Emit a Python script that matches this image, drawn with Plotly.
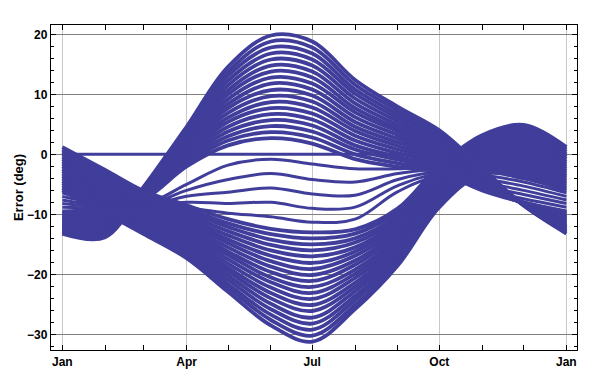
import plotly.graph_objects as go

# Day-of-year positions of the first day of each month (Jan 1 .. next Jan 1)
month_days = [0, 31, 59, 90, 120, 151, 181, 212, 243, 273, 304, 334, 365]
quarter_days = [0, 90, 181, 273, 365]
quarter_labels = ["Jan", "Apr", "Jul", "Oct", "Jan"]

# Curves peaking in June (values at the first of each month, degrees)
upper_curves = [
    [-13.2, -13.8, -5.4, 4.6, 14.6, 19.8, 18.8, 12.4, 7.9, 4.0, -2.3, -8.5, -13.2],
    [-13.0, -13.5, -5.5, 4.2, 13.8, 18.8, 17.8, 11.6, 7.3, 3.6, -2.5, -8.5, -13.0],
    [-12.8, -13.2, -5.6, 3.8, 13.1, 17.8, 16.8, 10.8, 6.7, 3.2, -2.7, -8.4, -12.8],
    [-12.5, -13.0, -5.8, 3.4, 12.3, 16.8, 15.8, 10.1, 6.1, 2.8, -2.9, -8.4, -12.5],
    [-12.3, -12.7, -5.9, 3.0, 11.5, 15.8, 14.8, 9.3, 5.5, 2.3, -3.2, -8.4, -12.3],
    [-12.1, -12.4, -6.0, 2.7, 10.7, 14.8, 13.8, 8.5, 4.9, 1.9, -3.4, -8.4, -12.1],
    [-11.9, -12.1, -6.1, 2.3, 10.0, 13.8, 12.8, 7.7, 4.3, 1.5, -3.6, -8.3, -11.9],
    [-11.7, -11.8, -6.3, 1.9, 9.2, 12.8, 11.8, 7.0, 3.8, 1.0, -3.8, -8.3, -11.7],
    [-11.5, -11.5, -6.4, 1.5, 8.4, 11.8, 10.8, 6.2, 3.2, 0.6, -4.0, -8.3, -11.5],
    [-11.2, -11.3, -6.5, 1.1, 7.7, 10.7, 9.8, 5.4, 2.6, 0.2, -4.3, -8.2, -11.2],
    [-11.0, -11.0, -6.6, 0.7, 6.9, 9.7, 8.8, 4.6, 2.0, -0.2, -4.5, -8.2, -11.0],
    [-10.8, -10.7, -6.8, 0.3, 6.1, 8.7, 7.8, 3.9, 1.4, -0.6, -4.7, -8.2, -10.8],
    [-10.6, -10.4, -6.9, -0.1, 5.4, 7.7, 6.8, 3.1, 0.8, -1.0, -5.0, -8.1, -10.6],
    [-10.4, -10.1, -7.0, -0.4, 4.6, 6.7, 5.8, 2.3, 0.2, -1.4, -5.2, -8.1, -10.4],
    [-10.2, -9.8, -7.1, -0.8, 3.8, 5.7, 4.8, 1.5, -0.4, -1.8, -5.4, -8.1, -10.2],
    [-9.9, -9.6, -7.3, -1.2, 3.0, 4.7, 3.8, 0.8, -0.9, -2.2, -5.6, -8.1, -9.9],
    [-9.7, -9.3, -7.4, -1.6, 2.3, 3.7, 2.8, 0.0, -1.5, -2.6, -5.8, -8.0, -9.7],
    [-9.5, -9.0, -7.5, -2.0, 1.5, 2.7, 1.8, -0.8, -2.1, -3.0, -6.0, -8.0, -9.5],
]

# Curves with a trough in July
lower_curves = [
    [-6.0, -9.8, -13.3, -17.3, -22.9, -28.5, -31.2, -25.8, -18.5, -8.8, -3.3, -4.0, -6.0],
    [-5.6, -9.4, -12.9, -16.8, -22.2, -27.6, -30.2, -25.1, -18.0, -8.4, -2.9, -3.5, -5.6],
    [-5.2, -9.0, -12.5, -16.3, -21.6, -26.7, -29.2, -24.3, -17.4, -8.0, -2.6, -3.0, -5.2],
    [-4.8, -8.6, -12.1, -15.8, -20.9, -25.8, -28.2, -23.6, -16.9, -7.6, -2.2, -2.5, -4.8],
    [-4.4, -8.2, -11.7, -15.3, -20.2, -24.9, -27.2, -22.8, -16.4, -7.2, -1.8, -2.0, -4.4],
    [-4.0, -7.8, -11.3, -14.9, -19.5, -24.0, -26.1, -22.1, -15.9, -6.9, -1.5, -1.5, -4.0],
    [-3.6, -7.4, -10.9, -14.4, -18.9, -23.1, -25.1, -21.4, -15.3, -6.5, -1.1, -1.0, -3.6],
    [-3.2, -7.0, -10.5, -13.9, -18.2, -22.2, -24.1, -20.6, -14.8, -6.1, -0.8, -0.5, -3.2],
    [-2.8, -6.6, -10.1, -13.4, -17.5, -21.3, -23.1, -19.9, -14.3, -5.7, -0.4, 0.0, -2.8],
    [-2.4, -6.2, -9.7, -12.9, -16.8, -20.5, -22.1, -19.2, -13.8, -5.3, 0.0, 0.4, -2.4],
    [-2.0, -5.8, -9.3, -12.4, -16.2, -19.6, -21.1, -18.4, -13.2, -4.9, 0.3, 0.9, -2.0],
    [-1.6, -5.4, -8.9, -11.9, -15.5, -18.7, -20.1, -17.7, -12.7, -4.6, 0.7, 1.4, -1.6],
    [-1.2, -5.0, -8.5, -11.4, -14.8, -17.8, -19.1, -16.9, -12.2, -4.2, 1.0, 1.9, -1.2],
    [-0.8, -4.6, -8.1, -10.9, -14.2, -16.9, -18.1, -16.2, -11.6, -3.8, 1.4, 2.4, -0.8],
    [-0.4, -4.2, -7.7, -10.5, -13.5, -16.0, -17.0, -15.5, -11.1, -3.4, 1.8, 2.9, -0.4],
    [0.0, -3.8, -7.3, -10.0, -12.8, -15.1, -16.0, -14.7, -10.6, -3.0, 2.1, 3.4, 0.0],
    [0.4, -3.4, -6.9, -9.5, -12.1, -14.2, -15.0, -14.0, -10.1, -2.6, 2.5, 3.9, 0.4],
    [0.8, -3.0, -6.5, -9.0, -11.5, -13.3, -14.0, -13.2, -9.5, -2.3, 2.8, 4.4, 0.8],
    [1.2, -2.6, -6.1, -8.5, -10.8, -12.4, -13.0, -12.5, -9.0, -1.9, 3.2, 4.9, 1.2],
]

# The widely spaced curves inside the white lens
inner_curves = [
    [-6.4, -8.2, -8.4, -5.0, -1.8, -0.8, -1.6, -2.4, -2.4, -2.2, -3.4, -4.6, -6.4],
    [-7.0, -8.4, -8.6, -6.0, -4.2, -3.2, -4.2, -4.6, -3.2, -2.6, -4.0, -5.3, -7.0],
    [-7.6, -8.6, -8.8, -7.0, -6.3, -5.6, -6.6, -6.8, -4.2, -3.0, -4.6, -6.0, -7.6],
    [-8.2, -8.8, -9.0, -8.0, -8.2, -8.0, -9.0, -8.8, -5.2, -3.4, -5.2, -6.7, -8.2],
    [-8.8, -9.0, -9.2, -9.0, -9.8, -10.4, -11.3, -10.8, -6.2, -3.8, -5.8, -7.4, -8.8],
]

# The flat reference curve at zero error
zero_curve = [0.0, 0.0, 0.0, 0.0, 0.0, 0.0, 0.0, 0.0, 0.0, 0.0, 0.0, 0.0, 0.0]

COLOR = "#403e9a"
FONT = "Liberation Sans, Arial, Helvetica, sans-serif"

fig = go.Figure()
for row in upper_curves + lower_curves:
    fig.add_trace(go.Scatter(
        x=month_days, y=row, mode="lines",
        line=dict(color=COLOR, width=3.8, shape="spline", smoothing=1.0),
        hoverinfo="skip", showlegend=False,
    ))
for row in inner_curves + [zero_curve]:
    fig.add_trace(go.Scatter(
        x=month_days, y=row, mode="lines",
        line=dict(color=COLOR, width=3, shape="spline", smoothing=1.0),
        hoverinfo="skip", showlegend=False,
    ))

tick_font = dict(family=FONT, size=12, color="black", weight="bold")

# The page adds an 8 px body margin, so the figure is 8 px smaller than the window
fig.update_layout(
    width=592, height=384,
    margin=dict(l=43, r=23, t=17, b=42, autoexpand=False),
    paper_bgcolor="white", plot_bgcolor="white",
    showlegend=False,
)
fig.update_xaxes(
    range=[-8.2, 372.7], automargin=False,
    tickmode="array", tickvals=quarter_days, ticktext=quarter_labels,
    ticks="inside", ticklen=5, tickcolor="black", tickwidth=1,
    showgrid=True, gridcolor="#c8c8c8", gridwidth=1,
    zeroline=False, showline=True, linecolor="black", linewidth=1.3,
    mirror="allticks", tickfont=tick_font,
    minor=dict(tickmode="array", tickvals=month_days, ticks="inside",
               ticklen=5, tickcolor="black", showgrid=False),
)
fig.update_yaxes(
    range=[-32.6, 21.55], automargin=False,
    tickmode="linear", tick0=0, dtick=10,
    ticks="inside", ticklen=5, tickcolor="black", tickwidth=1,
    showgrid=True, gridcolor="#808080", gridwidth=1,
    zeroline=False, showline=True, linecolor="black", linewidth=1.3,
    mirror="allticks", tickfont=tick_font,
    minor=dict(dtick=2, ticks="inside", ticklen=3, tickcolor="black", showgrid=False),
    title=dict(text="Error (deg)", font=dict(family=FONT, size=13, color="black", weight="bold"),
               standoff=0),
)

fig.write_html("out.html")
